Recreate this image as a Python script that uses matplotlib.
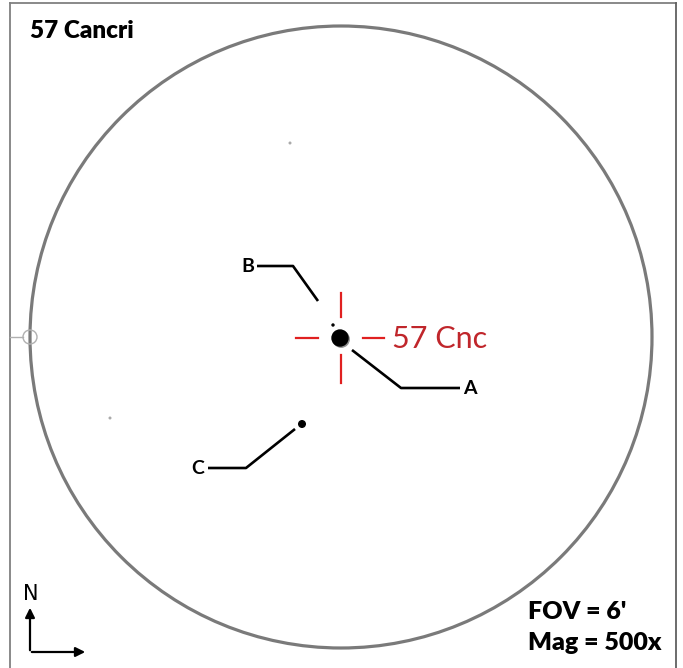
import matplotlib
matplotlib.use("Agg")
import matplotlib.pyplot as plt
from matplotlib.patches import Circle

# ---- data (pixel-like chart coordinates, y downward) ----
title = "57 Cancri"
target_label = "57 Cnc"
fov_text = "FOV = 6'"
mag_text = "Mag = 500x"

field_center = (341, 337)
field_radius = 311

star_names = ["A", "B", "C"]
star_x = [340, 333, 302]
star_y = [338, 325, 424]
star_r = [8.0, 1.0, 3.3]

# leader lines: star end -> bend -> label end
leader_x = [[352, 401, 460], [318, 293, 257], [295, 246, 208]]
leader_y = [[350, 388, 388], [301, 266, 266], [429, 468, 468]]
label_x = [470, 248, 198]
label_y = [389, 266, 468]

faint_x = [290, 110]
faint_y = [143, 418]

fig = plt.figure(figsize=(6.83, 6.68), dpi=100)
ax = fig.add_axes([0, 0, 1, 1])
ax.set_xlim(0, 683)
ax.set_ylim(668, 0)
ax.axis("off")

font = ["Lato", "DejaVu Sans"]

# frame
ax.plot([10, 10], [668, 3], color="#808080", lw=1.3)
ax.plot([10, 676], [3, 3], color="#808080", lw=1.3)
ax.plot([676, 676], [3, 668], color="#606060", lw=1.3)

# field circle
ax.add_patch(Circle(field_center, field_radius, fill=False, ec="#7a7a7a", lw=2.3))
# small marker at left edge
ax.add_patch(Circle((field_center[0] - field_radius, field_center[1]), 7,
                    fill=False, ec="#b0b0b0", lw=1.0))
ax.plot([10, field_center[0] - field_radius - 7], [field_center[1]] * 2,
        color="#b0b0b0", lw=1.0)

# stars
ax.add_patch(Circle((star_x[0] + 1.2, star_y[0] + 1.2), star_r[0], color="#909090", zorder=3))
for x, y, r in zip(star_x, star_y, star_r):
    ax.add_patch(Circle((x, y), r, color="black", zorder=4))
for x, y in zip(faint_x, faint_y):
    ax.add_patch(Circle((x, y), 0.8, color="#aaaaaa"))

# leader lines and labels
for lx, ly, tx, ty, name in zip(leader_x, leader_y, label_x, label_y, star_names):
    ax.plot(lx, ly, color="black", lw=1.9, solid_capstyle="butt")
    ax.text(tx, ty, name, ha="center", va="center", fontsize=14,
            fontweight="bold", family=font)

# red crosshair
cx, cy = star_x[0] + 1, star_y[0]
red = "#e02020"
ax.plot([cx - 45, cx - 23], [cy, cy], color=red, lw=1.6)
ax.plot([cx + 22, cx + 43], [cy, cy], color=red, lw=1.6)
ax.plot([cx, cx], [cy - 45, cy - 21], color=red, lw=1.6)
ax.plot([cx, cx], [cy + 17, cy + 45], color=red, lw=1.6)
ax.text(392, cy + 1, target_label, color="#c0262b", fontsize=22,
        ha="left", va="center", family=font)

# title & info
ax.text(30, 31, title, fontsize=17.5, fontweight="heavy", ha="left", va="center", family=font)
ax.text(528, 612, fov_text, fontsize=18, fontweight="heavy", ha="left", va="center", family=font)
ax.text(528, 643, mag_text, fontsize=18, fontweight="heavy", ha="left", va="center", family=font)

# N arrow
ax.annotate("", xy=(30, 605), xytext=(30, 653),
            arrowprops=dict(arrowstyle="-|>", color="black", lw=1.6, mutation_scale=14))
ax.annotate("", xy=(88, 652), xytext=(29, 652),
            arrowprops=dict(arrowstyle="-|>", color="black", lw=1.6, mutation_scale=14))
ax.text(31, 594, "N", fontsize=15, ha="center", va="center", family=["DejaVu Sans"])

fig.savefig("out.png", dpi=100, facecolor="white")
